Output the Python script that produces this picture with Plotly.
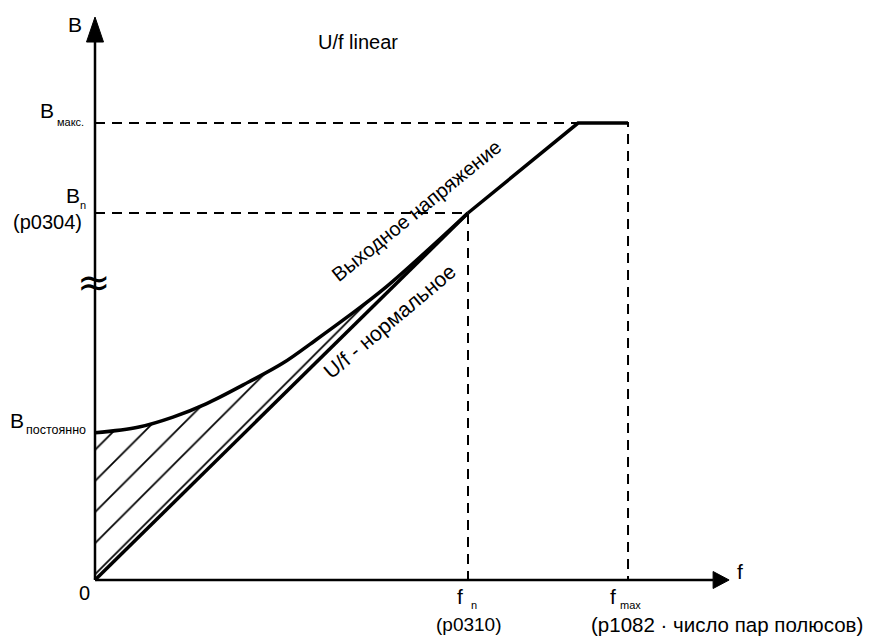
import plotly.graph_objects as go

# ---- data (relative units: f in units of f_n, B in units of B_n) ----
f_out = [0.0, 0.118, 0.209, 0.298, 0.413, 0.504, 0.592, 0.673, 0.780, 1.0, 1.295, 1.429]
B_out = [0.401, 0.417, 0.444, 0.480, 0.540, 0.591, 0.654, 0.714, 0.798, 1.0, 1.245, 1.245]
f_norm = [0.0, 1.0]
B_norm = [0.0, 1.0]
f_n = 1.0
f_max = 1.429
B_n = 1.0
B_max = 1.245
B_const = 0.401
f_axis_end = 1.700
B_axis_end = 1.534

# ---- layout geometry (page body has an 8px margin) ----
PAGE_W, PAGE_H = 874, 637
BODY = 8
W, H = PAGE_W - BODY, PAGE_H - BODY
OX, OY = 95, 580          # page-pixel position of origin
SX, SY = 373.0, 367.0     # pixels per unit

def pt(x, y):
    return (x - OX) / SX, (OY - y) / SY

FONT = "Arial, Liberation Sans, sans-serif"
BLACK = "#000000"

fig = go.Figure()

# hatched region between output voltage and U/f normal
n_h = 10
hx = [0.0] + f_out[:n_h] + [0.0]
hy = [0.0] + B_out[:n_h] + [0.0]
fig.add_trace(go.Scatter(
    x=hx, y=hy, mode="none", fill="toself",
    fillpattern=dict(shape="/", size=22, solidity=0.08, fgcolor=BLACK, fgopacity=1,
                     bgcolor="rgba(0,0,0,0)"),
    fillcolor="rgba(0,0,0,0)", hoverinfo="skip", showlegend=False))

dash = "10px,7px"
# dashed guides
fig.add_trace(go.Scatter(x=[0, f_max, f_max], y=[B_max, B_max, 0], mode="lines",
                         line=dict(color=BLACK, width=2, dash=dash), showlegend=False, hoverinfo="skip"))
fig.add_trace(go.Scatter(x=[0, f_n, f_n], y=[B_n, B_n, 0], mode="lines",
                         line=dict(color=BLACK, width=2, dash=dash), showlegend=False, hoverinfo="skip"))

# axes
y_arrow_len, y_arrow_hw = 25 / SY, 8.5 / SX
x_arrow_len, x_arrow_hh = 16 / SX, 8.5 / SY
fig.add_trace(go.Scatter(x=[0, 0], y=[0, B_axis_end - y_arrow_len], mode="lines",
                         line=dict(color=BLACK, width=2.5), showlegend=False, hoverinfo="skip"))
fig.add_trace(go.Scatter(x=[0, f_axis_end - x_arrow_len], y=[0, 0], mode="lines",
                         line=dict(color=BLACK, width=2.5), showlegend=False, hoverinfo="skip"))
fig.add_trace(go.Scatter(x=[-y_arrow_hw, y_arrow_hw, 0, -y_arrow_hw],
                         y=[B_axis_end - y_arrow_len, B_axis_end - y_arrow_len, B_axis_end, B_axis_end - y_arrow_len],
                         mode="lines", fill="toself", fillcolor=BLACK, line=dict(color=BLACK, width=1),
                         showlegend=False, hoverinfo="skip"))
fig.add_trace(go.Scatter(x=[f_axis_end - x_arrow_len, f_axis_end - x_arrow_len, f_axis_end, f_axis_end - x_arrow_len],
                         y=[-x_arrow_hh, x_arrow_hh, 0, -x_arrow_hh],
                         mode="lines", fill="toself", fillcolor=BLACK, line=dict(color=BLACK, width=1),
                         showlegend=False, hoverinfo="skip"))

# curves
fig.add_trace(go.Scatter(x=f_norm, y=B_norm, mode="lines",
                         line=dict(color=BLACK, width=3.5), showlegend=False, hoverinfo="skip"))
fig.add_trace(go.Scatter(x=f_out[:n_h], y=B_out[:n_h], mode="lines",
                         line=dict(color=BLACK, width=3.5, shape="spline", smoothing=1.0),
                         showlegend=False, hoverinfo="skip"))
fig.add_trace(go.Scatter(x=f_out[n_h - 1:], y=B_out[n_h - 1:], mode="lines",
                         line=dict(color=BLACK, width=3.5), showlegend=False, hoverinfo="skip"))

# ---- texts ----
def txt(text, px, py, size, angle=0, xanchor="center", family=FONT):
    x, y = pt(px, py)
    fig.add_annotation(x=x, y=y, text=text, showarrow=False, textangle=angle,
                       xanchor=xanchor, yanchor="middle",
                       font=dict(family=family, size=size, color=BLACK))

txt("B", 75, 24, 21)
txt("U/f linear", 358, 42, 20)
txt("B", 47, 110, 21)
txt("макс.", 70, 122, 11)
txt("B", 73, 195, 21)
txt("n", 83, 205, 11)
txt("(p0304)", 47, 222, 20)
txt("≈", 94, 282, 40, family="DejaVu Sans")
txt("B", 17, 420, 21)
txt("постоянно", 56, 430, 12.5)
txt("0", 84, 593, 20)
txt("f", 740, 571, 21)
txt("f", 460, 596, 21)
txt("n", 474, 605, 11)
txt("(p0310)", 469, 624, 19)
txt("f", 613, 596, 21)
txt("max", 630, 605, 11)
txt("(p1082 · число пар полюсов)", 727, 624, 20.5)
txt("Выходное напряжение", 416, 211, 20, angle=-39)
txt("U/f - нормальное", 389, 321, 21, angle=-40)

fig.update_layout(
    width=W, height=H,
    margin=dict(l=0, r=0, t=0, b=0),
    paper_bgcolor="white", plot_bgcolor="white",
    xaxis=dict(range=[(BODY - OX) / SX, (PAGE_W - OX) / SX], visible=False, fixedrange=True),
    yaxis=dict(range=[(OY - PAGE_H) / SY, (OY - BODY) / SY], visible=False, fixedrange=True),
    showlegend=False,
)

fig.write_html("out.html")
